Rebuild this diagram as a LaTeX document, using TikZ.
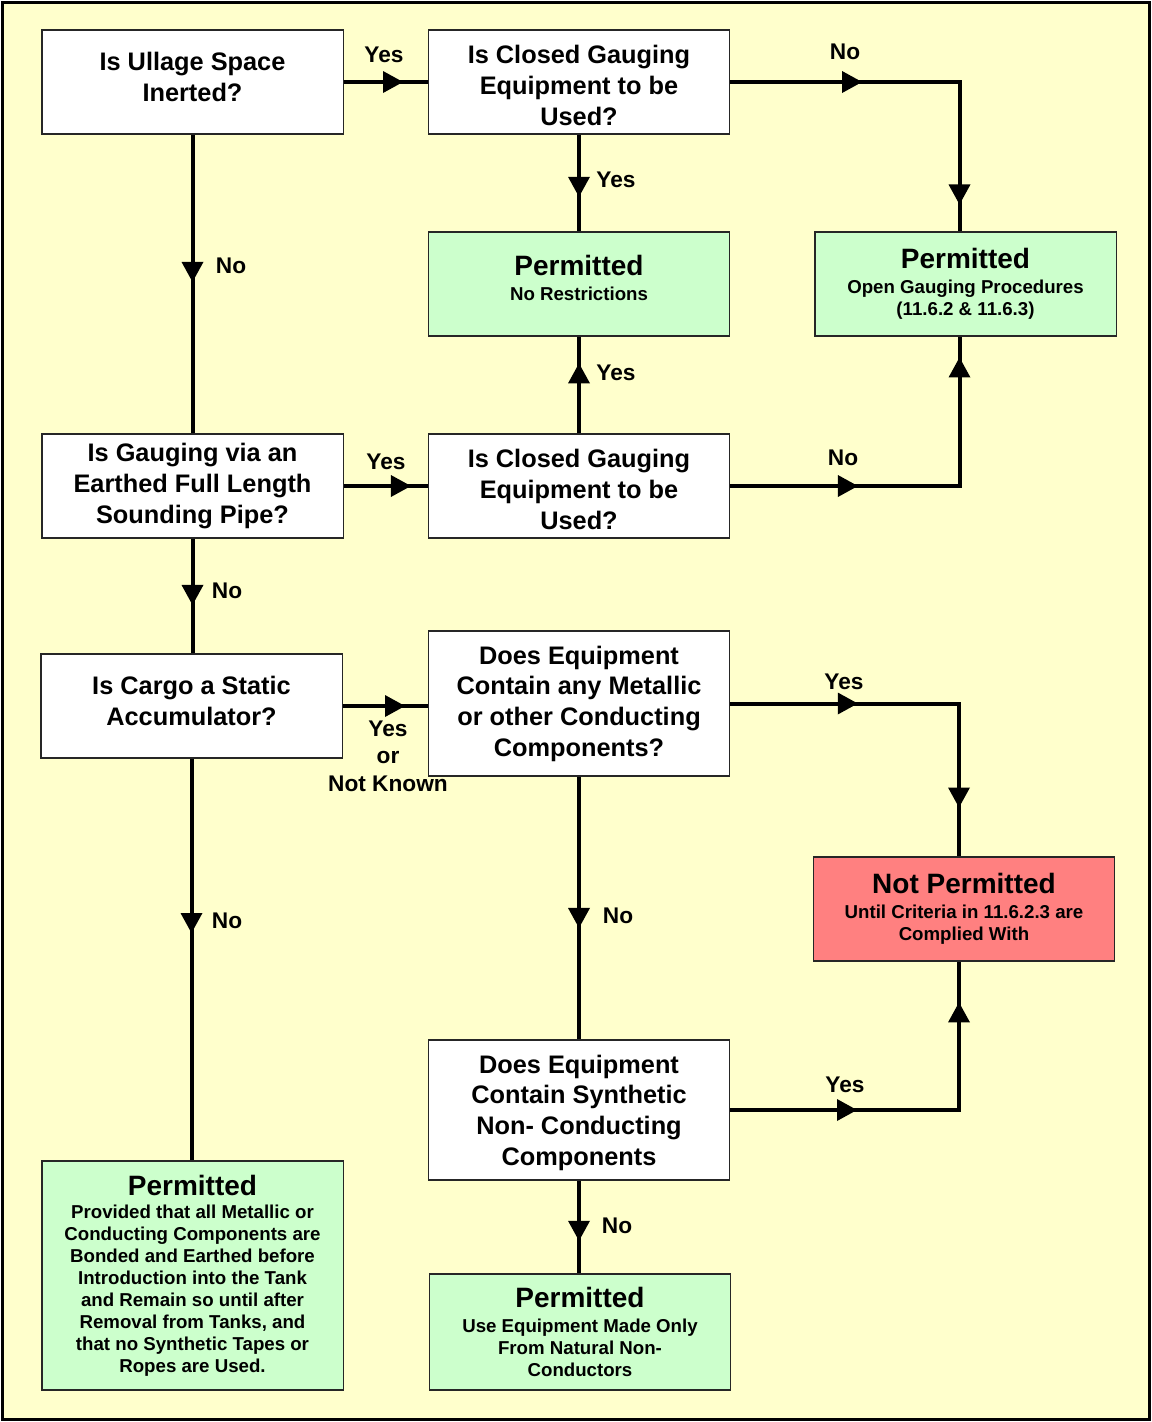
\documentclass[tikz,border=0pt]{standalone}
\usepackage{fontspec}
\setmainfont{Liberation Sans}
\usetikzlibrary{arrows.meta,decorations.markings}
\definecolor{bgyellow}{HTML}{FFFFCC}
\definecolor{okgreen}{HTML}{CCFFCC}
\definecolor{nored}{HTML}{FF8080}
\newcommand\qsize{\fontsize{19pt}{23pt}\selectfont\bfseries}
\newcommand\ssize{\fontsize{14pt}{16.5pt}\selectfont\bfseries}
\newcommand\tsize{\fontsize{21pt}{21pt}\selectfont\bfseries}
\newcommand\lsize{\fontsize{17pt}{20.6pt}\selectfont\bfseries}
\begin{document}
\begin{tikzpicture}[x=0.75pt,y=-0.75pt,
  box/.style={draw=black!85,line width=1pt,fill=white,inner sep=0pt,
    minimum width=226pt,minimum height=78pt,align=center,font=\qsize},
  okbox/.style={box,fill=okgreen,font=\ssize},
  nobox/.style={box,fill=nored,font=\ssize},
  qtext/.style={inner sep=0pt,align=center,font=\qsize},
  stext/.style={inner sep=0pt,align=center,font=\ssize},
  lbl/.style={font=\lsize,align=center,inner sep=0pt},
  flowtip/.tip={Triangle[length=15pt,width=16.5pt,line width=0pt]},
  conn/.style={line width=3pt},
  arr/.style={conn,postaction={decorate,decoration={markings,
    mark=at position #1 with {\arrow{flowtip}}}}},
  arrr/.style 2 args={conn,postaction={decorate,decoration={markings,
    mark=at position #1 with {\arrow{flowtip}},
    mark=at position #2 with {\arrow{flowtip}}}}},
]
\useasboundingbox (0,0) rectangle (1152,1422);
\draw[line width=2.25pt,fill=bgyellow] (2.5,2.5) rectangle (1149.5,1419.5);

% boxes
\node[box] (a) at (192.5,82) {};
\node[qtext] (at) at ([yshift=3.75pt]a.center) {Is Ullage Space\\Inerted?};
\node[box] (b) at (579,82) {};
\node[qtext] (bt) at ([yshift=-2.6pt]b.center) {Is Closed Gauging\\Equipment to be\\Used?};
\node[okbox] (c) at (579,284) {};
\node[stext] (ct) at ([yshift=4.5pt]c.center) {{\tsize Permitted}\\[2pt]No Restrictions};
\node[okbox] (d) at (965.5,284) {{\tsize Permitted}\\[2pt]Open Gauging Procedures\\(11.6.2 \& 11.6.3)};
\node[box] (e) at (192.5,486) {Is Gauging via an\\Earthed Full Length\\Sounding Pipe?};
\node[box] (f) at (579,486) {};
\node[qtext] (ft) at ([yshift=-2.6pt]f.center) {Is Closed Gauging\\Equipment to be\\Used?};
\node[box] (g) at (191.5,706) {};
\node[qtext] (gt) at ([yshift=3.75pt]g.center) {Is Cargo a Static\\Accumulator?};
\node[box,minimum height=108.75pt] (h) at (579,703.5) {Does Equipment\\Contain any Metallic\\or other Conducting\\Components?};
\node[nobox] (i) at (964,909) {{\tsize Not Permitted}\\[2pt]Until Criteria in 11.6.2.3 are\\Complied With};
\node[box,minimum height=105pt] (j) at (579,1110) {};
\node[qtext] (jt) at ([yshift=-1.9pt]j.center) {Does Equipment\\Contain Synthetic\\Non- Conducting\\Components};
\node[okbox,minimum height=171.75pt] (k) at (192.5,1275.5) {{\tsize Permitted}\\[0.5pt]Provided that all Metallic or\\Conducting Components are\\Bonded and Earthed before\\Introduction into the Tank\\and Remain so until after\\Removal from Tanks, and\\that no Synthetic Tapes or\\Ropes are Used.};
\node[okbox,minimum height=87pt] (l) at (580,1332) {{\tsize Permitted}\\[2pt]Use Equipment Made Only\\From Natural Non-\\Conductors};

% connectors
\draw[arr=0.706] (a) -- (b);
\draw[arr=0.643] (b) -- (c);
\draw[arrr={0.348}{0.929}] (b.east) -| ([xshift=-4.5pt]d.north);
\draw[arr=0.493] (a) -- (e);
\draw[arr=0.8] (e) -- (f);
\draw[arr=0.724] (f) -- (c);
\draw[arrr={0.337}{0.945}] (f.east) -| ([xshift=-4.5pt]d.south);
\draw[arr=0.578] (e.south) -- (e.south |- g.north);
\draw[arr=0.733] (g.east) -- (g.east -| h.west);
\draw[arrr={0.334}{0.872}] (h.east) -| ([xshift=-3.75pt]i.north);
\draw[arr=0.576] (h) -- (j);
\draw[arr=0.434] (g.south) -- (g.south |- k.north);
\draw[arrr={0.336}{0.892}] (j.east) -| ([xshift=-3.75pt]i.south);
\draw[arr=0.649] (j.south) -- (j.south |- l.north);

% labels
\node[lbl] (yab) at (384,55) {Yes};
\node[lbl] (nbd) at (845,52) {No};
\node[lbl] (ybc) at (616,180) {Yes};
\node[lbl] (nae) at (231,266) {No};
\node[lbl] (yef) at (386,462) {Yes};
\node[lbl] (yfc) at (616,373) {Yes};
\node[lbl] (nfd) at (843,458) {No};
\node[lbl] (neg) at (227,591) {No};
\node[lbl] (ygh) at (388,756) {Yes\\or\\Not Known};
\node[lbl] (yhi) at (844,682) {Yes};
\node[lbl] (nhj) at (618,916) {No};
\node[lbl] (ngk) at (227,921) {No};
\node[lbl] (yji) at (845,1085) {Yes};
\node[lbl] (njl) at (617,1226) {No};
\end{tikzpicture}
\end{document}
